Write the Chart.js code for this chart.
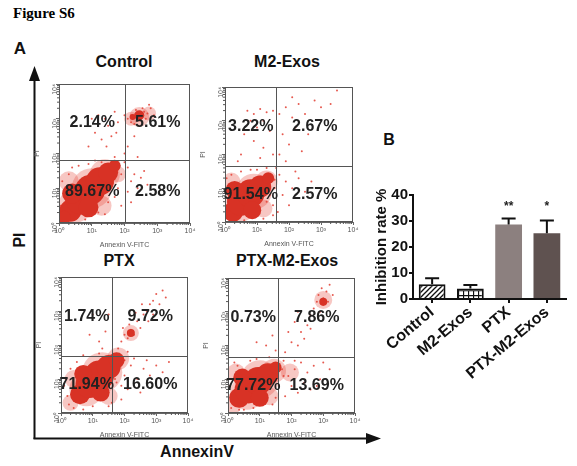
<!DOCTYPE html>
<html>
<head>
<meta charset="utf-8">
<title>Figure S6</title>
<script src="https://cdn.jsdelivr.net/npm/chart.js@4.4.1/dist/chart.umd.min.js"></script>
<style>
  body { margin: 0; background: #fff; font-family: Arial, "Liberation Sans", sans-serif; }
  #page { position: relative; width: 577px; height: 466px; overflow: hidden; }
  canvas, .lbl, svg { position: absolute; }
  .lbl { font-weight: bold; color: #111; white-space: nowrap; line-height: 1; transform: translate(-50%, -50%); }
</style>
</head>
<body>
<div id="page">
  <svg width="577" height="466" style="left:0;top:0">
    <line x1="34.5" y1="439" x2="34.5" y2="78" stroke="#111" stroke-width="2"/>
    <polygon points="34.5,66 29,81 40,81" fill="#111"/>
    <line x1="33.5" y1="438.5" x2="368" y2="438.5" stroke="#111" stroke-width="2"/>
    <polygon points="381,438.5 366,433 366,444" fill="#111"/>
  </svg>
  <div class="lbl" style="left:13px;top:6px;transform:none;font-family:'Liberation Serif','Times New Roman',serif;font-size:15px;color:#000">Figure S6</div>
  <div class="lbl" style="left:20px;top:48px;font-size:17px">A</div>
  <div class="lbl" style="left:389px;top:140px;font-size:16px">B</div>
  <div class="lbl" style="left:124px;top:62px;font-size:16px">Control</div>
  <div class="lbl" style="left:287px;top:62px;font-size:16px">M2-Exos</div>
  <div class="lbl" style="left:119px;top:261px;font-size:16px">PTX</div>
  <div class="lbl" style="left:287px;top:261px;font-size:16px">PTX-M2-Exos</div>
  <div class="lbl" style="left:20px;top:240px;font-size:16px;transform:translate(-50%,-50%) rotate(-90deg)">PI</div>
  <div class="lbl" style="left:197px;top:452px;font-size:16px">AnnexinV</div>
  <canvas id="flowControl"></canvas>
  <canvas id="flowM2"></canvas>
  <canvas id="flowPTX"></canvas>
  <canvas id="flowPTXM2"></canvas>
  <canvas id="inhibition"></canvas>
</div>
<script>
Chart.defaults.font.family = 'Arial, "Liberation Sans", sans-serif';

// ---- panel A: flow cytometry dot plots (log10 units, 0..4 decades) ----
const logTickLabels = ['10⁰', '10¹', '10²', '10³', '10⁴'];

// quadrant gates [annexin, PI] and percentages: UL, UR, LL, LR
const controlGate = [2.0, 1.8];
const controlPct = ['2.14%', '5.61%', '89.67%', '2.58%'];
const m2Gate = [1.6, 1.66];
const m2Pct = ['3.22%', '2.67%', '91.54%', '2.57%'];
const ptxGate = [1.6, 1.68];
const ptxPct = ['1.74%', '9.72%', '71.94%', '16.60%'];
const ptxM2Gate = [1.57, 1.66];
const ptxM2Pct = ['0.73%', '7.86%', '77.72%', '13.69%'];

const controlHalo = [[0.5, 0.5, 17], [1.0, 1.0, 20], [1.4, 1.4, 15], [0.3, 1.2, 10], [1.3, 0.5, 10], [1.8, 1.4, 8], [2.45, 3.05, 10], [2.2, 3.0, 7], [2.75, 3.15, 7]];
const controlCore = [[0.35, 0.35, 11], [0.65, 0.65, 14], [0.95, 0.95, 15], [1.25, 1.2, 14], [1.5, 1.45, 10], [0.4, 0.85, 10], [0.9, 0.45, 10], [1.7, 1.65, 6], [0.15, 0.15, 7], [2.45, 3.1, 5], [2.25, 3.05, 3]];
const controlDots = [
  [2.1, 3.0], [2.2, 3.1], [2.3, 3.05], [2.4, 3.15], [2.5, 3.1], [2.6, 3.2], [2.7, 3.15], [2.45, 2.95], [2.35, 3.25], [2.55, 3.3],
  [2.2, 2.9], [2.8, 3.3], [2.65, 3.0], [2.0, 3.1], [2.3, 2.85], [2.75, 3.4], [2.9, 3.1], [2.5, 3.0],
  [1.2, 3.1], [1.4, 3.0], [1.5, 2.8], [1.7, 3.2], [1.1, 2.6], [1.3, 2.4], [1.6, 2.5], [0.9, 2.2], [1.8, 2.9], [1.45, 2.2], [1.0, 3.0], [1.75, 2.6],
  [2.1, 1.6], [2.3, 1.4], [2.2, 1.2], [2.4, 1.0], [2.5, 1.3], [2.1, 0.9], [2.6, 1.5], [2.2, 0.6], [2.7, 1.1], [2.0, 1.75],
  [0.1, 0.2], [0.2, 0.6], [0.3, 0.1], [1.5, 0.6], [1.8, 1.0], [1.9, 1.4], [0.3, 1.4], [1.7, 1.9], [0.05, 0.5], [1.2, 0.3],
  [2.1, 2.2], [2.3, 2.5], [2.0, 2.0], [2.4, 1.9],
  [0.0, 0.9], [0.1, 1.2], [0.4, 1.6], [0.9, 1.7], [1.3, 1.75], [1.65, 1.15], [1.7, 0.75], [1.4, 0.25], [0.8, 0.1], [0.05, 0.05],
  [1.85, 1.65], [1.9, 0.5], [0.6, 1.65], [1.1, 1.8]
];

const m2Halo = [[0.45, 0.5, 17], [0.9, 0.9, 18], [1.3, 1.2, 11], [0.2, 1.2, 9], [1.2, 0.4, 9]];
const m2Core = [[0.25, 0.3, 10], [0.5, 0.6, 14], [0.8, 0.85, 14], [1.1, 1.05, 11], [0.3, 0.95, 9], [0.85, 0.35, 9], [1.35, 1.3, 6]];
const m2Dots = [
  [0.7, 3.3], [0.9, 3.2], [1.1, 3.35], [1.3, 3.25], [0.8, 3.0], [1.2, 3.0], [1.5, 3.3], [1.0, 2.8], [0.6, 2.6], [1.4, 2.7],
  [0.9, 2.4], [1.2, 2.2], [0.5, 2.0], [1.5, 2.0], [0.4, 1.8], [1.1, 1.9],
  [1.7, 3.2], [1.9, 3.4], [2.1, 3.1], [2.3, 3.5], [2.5, 3.2], [2.1, 3.7], [2.8, 3.6], [3.0, 3.4], [3.3, 3.5], [1.8, 2.6],
  [2.0, 2.3], [2.2, 2.8], [2.4, 2.1], [1.7, 2.0], [2.6, 2.6], [1.9, 1.8], [3.5, 3.9],
  [1.7, 1.4], [1.9, 1.2], [2.1, 1.0], [2.3, 1.3], [1.8, 0.8], [2.5, 0.9], [2.7, 1.2], [2.0, 0.5], [2.2, 1.5], [1.65, 0.3],
  [0.05, 0.4], [1.5, 0.2], [1.3, 0.6], [1.55, 1.0], [0.2, 1.4], [0.8, 1.55], [1.6, 1.6],
  [0.05, 1.3], [0.5, 1.5], [1.0, 1.55], [1.4, 0.8], [1.5, 0.5], [1.2, 0.1], [0.6, 0.05], [0.1, 0.7], [1.3, 1.6], [1.55, 1.25]
];

const ptxHalo = [[0.8, 0.7, 17], [1.3, 1.2, 20], [1.8, 1.6, 11], [0.4, 1.0, 9], [1.5, 0.5, 9], [2.2, 2.35, 8], [0.3, 0.3, 8]];
const ptxCore = [[0.6, 0.55, 10], [0.9, 0.85, 14], [1.2, 1.1, 15], [1.5, 1.35, 12], [1.75, 1.55, 8], [0.7, 1.15, 9], [1.25, 0.6, 9], [2.2, 2.35, 4]];
const ptxDots = [
  [1.8, 1.9], [1.9, 2.1], [2.0, 2.3], [2.1, 2.2], [2.2, 2.45], [2.3, 2.3], [2.15, 2.6], [2.4, 2.7], [2.5, 2.5], [2.6, 2.9],
  [2.7, 3.0], [2.8, 3.2], [2.9, 3.3], [3.0, 3.5], [3.1, 3.2], [2.55, 3.2], [2.75, 2.7], [3.2, 3.6], [2.35, 2.95], [1.95, 2.5],
  [2.9, 2.9], [3.3, 3.4],
  [1.2, 2.1], [1.4, 2.4], [1.0, 2.9], [1.5, 2.9], [1.3, 1.9], [0.9, 2.3],
  [1.8, 1.3], [2.0, 1.1], [2.2, 1.4], [2.4, 1.0], [2.6, 1.3], [2.8, 1.1], [3.0, 1.4], [3.2, 1.2], [2.1, 0.7], [2.5, 0.6],
  [1.9, 0.4], [2.3, 1.6], [2.7, 1.55], [3.4, 1.5], [2.0, 1.55], [1.75, 0.9],
  [0.2, 0.5], [0.4, 0.15], [1.0, 0.2], [0.15, 1.0], [0.5, 1.5], [1.6, 0.3],
  [0.1, 0.8], [0.3, 1.3], [0.7, 1.7], [1.2, 1.75], [1.7, 1.0], [1.9, 0.8], [1.5, 0.2], [0.7, 0.1], [0.25, 0.25], [2.1, 1.8]
];

const ptxM2Halo = [[0.6, 0.6, 17], [1.0, 1.0, 19], [1.45, 1.25, 12], [0.25, 1.2, 9], [1.3, 0.5, 9], [0.15, 0.2, 8], [3.0, 3.35, 9], [1.95, 1.2, 9]];
const ptxM2Core = [[0.35, 0.45, 10], [0.65, 0.7, 14], [0.95, 0.95, 14], [1.25, 1.15, 11], [0.45, 1.05, 9], [1.0, 0.45, 9], [1.5, 1.35, 6], [3.0, 3.3, 4]];
const ptxM2Dots = [
  [1.8, 1.8], [2.0, 2.1], [2.2, 2.0], [2.3, 2.4], [2.5, 2.6], [2.4, 2.2], [2.6, 2.9], [2.7, 3.1], [2.8, 3.3], [2.9, 3.0],
  [3.0, 3.4], [3.1, 3.6], [2.85, 3.5], [3.0, 3.2], [3.15, 3.3], [2.95, 3.7], [3.2, 3.8], [2.1, 2.7], [1.9, 2.4], [2.6, 2.5],
  [3.3, 3.5], [2.2, 3.0],
  [1.2, 2.0], [1.4, 2.3], [0.9, 2.1], [1.5, 1.85],
  [1.7, 1.3], [1.9, 1.1], [2.1, 1.3], [2.3, 1.5], [2.5, 1.2], [2.7, 1.4], [2.9, 1.0], [2.0, 0.8], [2.2, 0.6], [2.4, 0.9],
  [2.6, 0.7], [3.0, 1.5], [1.8, 0.5], [1.75, 1.55], [2.8, 0.8], [3.2, 1.3],
  [0.1, 0.15], [0.5, 0.1], [1.4, 0.25], [0.2, 1.5], [0.7, 1.55],
  [0.05, 0.8], [0.3, 1.4], [0.9, 1.6], [1.3, 1.65], [1.6, 0.8], [1.5, 0.45], [0.8, 0.15], [0.35, 0.1], [1.75, 1.1], [2.1, 1.55]
];

// ---- panel B: inhibition rate bar chart ----
const barLabels = ['Control', 'M2-Exos', 'PTX', 'PTX-M2-Exos'];
const barValues = [5.7, 4.0, 28.7, 25.3];
const barErrors = [2.3, 1.4, 2.3, 4.9];
const barStars = ['', '', '**', '*'];

const flowPlugin = {
  id: 'flowGate',
  afterDatasetsDraw(chart, args, opts) {
    const { ctx, chartArea: a, scales: { x, y } } = chart;
    const gx = Math.round(x.getPixelForValue(opts.gate[0])) + 0.5;
    const gy = Math.round(y.getPixelForValue(opts.gate[1])) + 0.5;
    ctx.save();
    ctx.strokeStyle = '#555';
    ctx.lineWidth = 1;
    ctx.strokeRect(a.left + 0.5, a.top + 0.5, a.width - 1, a.height - 1);
    ctx.beginPath();
    ctx.moveTo(gx, a.top); ctx.lineTo(gx, a.bottom);
    ctx.moveTo(a.left, gy); ctx.lineTo(a.right, gy);
    // minor log ticks
    for (let n = 0; n < 4; n++) {
      for (let k = 2; k < 10; k++) {
        const px = x.getPixelForValue(n + Math.log10(k));
        const py = y.getPixelForValue(n + Math.log10(k));
        ctx.moveTo(px, a.bottom); ctx.lineTo(px, a.bottom + 2);
        ctx.moveTo(a.left - 2, py); ctx.lineTo(a.left, py);
      }
    }
    ctx.stroke();
    ctx.font = 'bold 16px Arial, "Liberation Sans", sans-serif';
    ctx.fillStyle = '#222';
    ctx.textAlign = 'center';
    ctx.textBaseline = 'middle';
    const cl = (a.left + gx) / 2, cr = (gx + a.right) / 2;
    const ct = (a.top + gy) / 2, cb = (gy + a.bottom) / 2;
    ctx.fillText(opts.pct[0], cl, ct);
    ctx.fillText(opts.pct[1], cr, ct);
    ctx.fillText(opts.pct[2], cl, cb);
    ctx.fillText(opts.pct[3], cr, cb);
    ctx.restore();
  }
};

function makeFlow(id, box, gate, pct, halo, core, dots) {
  const cv = document.getElementById(id);
  const [L, T, R, B] = box;
  cv.width = R - L + 34;
  cv.height = B - T + 34;
  cv.style.left = (L - 26) + 'px';
  cv.style.top = (T - 8) + 'px';
  const blob = d => ({ x: d[0], y: d[1], r: d[2] });
  new Chart(cv, {
    type: 'scatter',
    data: {
      datasets: [
        { type: 'bubble', order: 0, data: core.map(blob), backgroundColor: 'rgb(216,50,37)', borderWidth: 0, clip: 0 },
        { type: 'bubble', order: 1, data: halo.map(blob), backgroundColor: 'rgba(228,70,55,0.3)', borderWidth: 0, clip: 0 },
        { order: 2, data: dots.map(d => ({ x: d[0], y: d[1] })), pointRadius: 1, backgroundColor: 'rgba(226,60,48,0.85)', borderWidth: 0, clip: 0 }
      ]
    },
    options: {
      responsive: false,
      animation: false,
      events: [],
      layout: { autoPadding: false, padding: { top: 8, right: 8 } },
      plugins: { legend: { display: false }, tooltip: { enabled: false }, flowGate: { gate: gate, pct: pct } },
      scales: {
        x: {
          min: 0, max: 4,
          afterFit: s => { s.height = 26; },
          ticks: { stepSize: 1, callback: v => logTickLabels[v], font: { size: 7 }, color: '#555', padding: 1, maxRotation: 0 },
          grid: { drawOnChartArea: false, tickLength: 3, color: '#666' },
          border: { color: '#666' },
          title: { display: true, text: 'Annexin V-FITC', font: { size: 7 }, color: '#555', padding: { top: 1, bottom: 0 } }
        },
        y: {
          min: 0, max: 4,
          afterFit: s => { s.width = 26; },
          ticks: { stepSize: 1, callback: v => logTickLabels[v], font: { size: 7 }, color: '#555', padding: 1, minRotation: 90, maxRotation: 90 },
          grid: { drawOnChartArea: false, tickLength: 3, color: '#666' },
          border: { color: '#666' },
          title: { display: true, text: 'PI', font: { size: 7 }, color: '#555', padding: { top: 0, bottom: 1 } }
        }
      }
    },
    plugins: [flowPlugin]
  });
}

makeFlow('flowControl', [59, 84, 190, 223], controlGate, controlPct, controlHalo, controlCore, controlDots);
makeFlow('flowM2', [225, 87, 353, 222], m2Gate, m2Pct, m2Halo, m2Core, m2Dots);
makeFlow('flowPTX', [61, 277, 188, 413], ptxGate, ptxPct, ptxHalo, ptxCore, ptxDots);
makeFlow('flowPTXM2', [228, 278, 355, 413], ptxM2Gate, ptxM2Pct, ptxM2Halo, ptxM2Core, ptxM2Dots);

// hatch fills for the two untreated bars
function hatch(kind) {
  const c = document.createElement('canvas');
  c.width = 5; c.height = 5;
  const g = c.getContext('2d');
  g.fillStyle = '#fff';
  g.fillRect(0, 0, 5, 5);
  g.strokeStyle = '#111';
  g.lineWidth = 1.3;
  g.beginPath();
  if (kind === 'diag') {
    g.moveTo(-1, 6); g.lineTo(6, -1);
    g.moveTo(-1, 1); g.lineTo(1, -1);
    g.moveTo(4, 6); g.lineTo(6, 4);
  } else {
    g.moveTo(0, 0.5); g.lineTo(5, 0.5);
    g.moveTo(0.5, 0); g.lineTo(0.5, 5);
  }
  g.stroke();
  return g.createPattern(c, 'repeat');
}

const errorPlugin = {
  id: 'errorBars',
  afterDatasetsDraw(chart) {
    const { ctx, scales: { y } } = chart;
    const meta = chart.getDatasetMeta(0);
    ctx.save();
    ctx.strokeStyle = '#111';
    ctx.lineWidth = 2;
    ctx.fillStyle = '#222';
    ctx.font = 'bold 12px Arial, "Liberation Sans", sans-serif';
    ctx.textAlign = 'center';
    ctx.textBaseline = 'middle';
    meta.data.forEach((bar, i) => {
      const top = y.getPixelForValue(barValues[i]);
      const up = y.getPixelForValue(barValues[i] + barErrors[i]);
      ctx.beginPath();
      ctx.moveTo(bar.x, top); ctx.lineTo(bar.x, up);
      ctx.moveTo(bar.x - 7, up); ctx.lineTo(bar.x + 7, up);
      ctx.stroke();
      if (barStars[i]) ctx.fillText(barStars[i], bar.x, y.getPixelForValue(35.5));
    });
    ctx.restore();
  }
};

const bc = document.getElementById('inhibition');
bc.width = 204; bc.height = 195;
bc.style.left = '373px'; bc.style.top = '185px';
new Chart(bc, {
  type: 'bar',
  data: {
    labels: barLabels,
    datasets: [{
      data: barValues,
      backgroundColor: [hatch('diag'), hatch('grid'), '#8c807f', '#5f5250'],
      borderColor: ['#111', '#111', '#8c807f', '#5f5250'],
      borderWidth: [2, 2, 0, 0],
      barPercentage: 0.7,
      categoryPercentage: 1
    }]
  },
  options: {
    responsive: false,
    animation: false,
    events: [],
    layout: { padding: { top: 9, right: 11 } },
    plugins: { legend: { display: false }, tooltip: { enabled: false } },
    scales: {
      x: {
        afterFit: s => { s.height = 81; },
        ticks: { font: { size: 16, weight: 'bold' }, color: '#111', minRotation: 40, maxRotation: 40, padding: 0 },
        grid: { offset: false, drawOnChartArea: false, tickLength: 4, color: '#111', lineWidth: 2 },
        border: { color: '#111', width: 2 }
      },
      y: {
        min: 0, max: 40,
        afterFit: s => { s.width = 40; },
        ticks: { stepSize: 10, font: { size: 15, weight: 'bold' }, color: '#111', padding: 1 },
        grid: { drawOnChartArea: false, tickLength: 4, color: '#111', lineWidth: 2 },
        border: { color: '#111', width: 2 },
        title: { display: true, text: 'Inhibition rate %', font: { size: 15, weight: 'bold' }, color: '#111', padding: 0 }
      }
    }
  },
  plugins: [errorPlugin]
});
</script>
</body>
</html>
